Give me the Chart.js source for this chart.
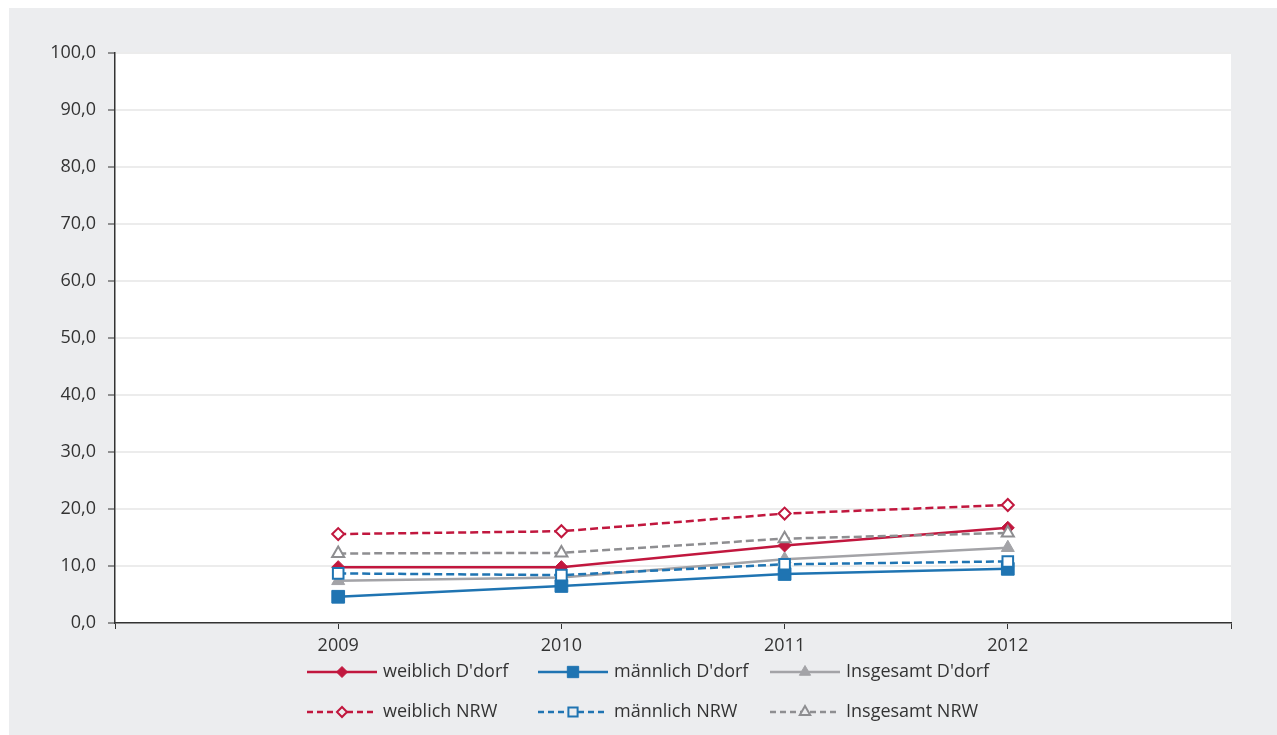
<!DOCTYPE html>
<html lang="de">
<head>
<meta charset="utf-8">
<title>Quote 2009–2012</title>
<script src="https://cdn.jsdelivr.net/npm/chart.js@4/dist/chart.umd.min.js"></script>
<style>
  html, body { margin: 0; padding: 0; background: #fff; }
  #panel { position: absolute; left: 9px; top: 8px; width: 1268px; height: 727px; background: #ecedef; }
  #wrap { position: absolute; left: 0; top: 0; width: 1277px; height: 735px; }
</style>
</head>
<body>
<div id="panel"></div>
<div id="wrap"><canvas id="quoteChart" width="1277" height="735"></canvas></div>
<script>
// Jahre und Werte (in %)
const jahre = [2009, 2010, 2011, 2012];
const weiblichDdorf = [9.8, 9.8, 13.6, 16.7];
const maennlichDdorf = [4.6, 6.5, 8.6, 9.5];
const insgesamtDdorf = [7.4, 8.0, 11.2, 13.2];
const weiblichNRW = [15.6, 16.1, 19.2, 20.7];
const maennlichNRW = [8.7, 8.4, 10.3, 10.8];
const insgesamtNRW = [12.2, 12.3, 14.8, 15.8];

const ROT = '#c1173e';
const BLAU = '#1f74b2';
const GRAU = '#a3a3a7';
const GRAU_NRW = '#8e8e91';
const TEXT = '#333333';
const FONT = '"Open Sans", "DejaVu Sans", sans-serif';
const FONT_SIZE = 18;

const punkte = werte => werte.map((v, i) => ({ x: jahre[i], y: v }));
const komma = v => v.toFixed(1).replace('.', ',');

const serien = [
	{ label: "weiblich D'dorf", data: weiblichDdorf, color: ROT, style: 'rectRot', r: 6.5, open: false, dash: [] },
	{ label: "männlich D'dorf", data: maennlichDdorf, color: BLAU, style: 'rect', r: 9, open: false, dash: [] },
	{ label: "Insgesamt D'dorf", data: insgesamtDdorf, color: GRAU, style: 'triangle', r: 7.5, open: false, dash: [] },
	{ label: 'weiblich NRW', data: weiblichNRW, color: ROT, style: 'rectRot', r: 6, open: true, dash: [8, 4] },
	{ label: 'männlich NRW', data: maennlichNRW, color: BLAU, style: 'rect', r: 7.5, open: true, dash: [8, 4] },
	{ label: 'Insgesamt NRW', data: insgesamtNRW, color: GRAU_NRW, style: 'triangle', r: 7, open: true, dash: [8, 4] }
];

// weiße Zeichenfläche
const plotBg = {
	id: 'plotBg',
	beforeDraw(chart) {
		const { ctx, chartArea: a } = chart;
		ctx.save();
		ctx.fillStyle = '#fff';
		ctx.fillRect(a.left, a.top, a.right - a.left, a.bottom - a.top);
		ctx.restore();
	}
};

// Legende: zwei Zeilen à drei Einträge, Linie mit Symbol
const legende = {
	id: 'legende',
	afterDraw(chart) {
		const ctx = chart.ctx;
		const spalten = [307, 538, 770];
		const zeilen = [672, 712];
		ctx.save();
		serien.forEach((s, i) => {
			const x = spalten[i % 3];
			const y = zeilen[Math.floor(i / 3)];
			ctx.strokeStyle = s.color;
			ctx.lineWidth = 2.5;
			ctx.setLineDash(s.open ? [6, 4] : []);
			ctx.beginPath();
			ctx.moveTo(x, y);
			ctx.lineTo(x + 70, y);
			ctx.stroke();
			ctx.setLineDash([]);
			ctx.fillStyle = s.open ? '#ecedef' : s.color;
			ctx.lineWidth = s.open ? 2 : 1;
			Chart.helpers.drawPoint(ctx, {
				pointStyle: s.style,
				radius: s.r - 1,
				rotation: 0,
				borderWidth: s.open ? 2 : 1
			}, x + 35, y);
			ctx.fillStyle = TEXT;
			ctx.font = FONT_SIZE + 'px ' + FONT;
			ctx.textBaseline = 'middle';
			ctx.textAlign = 'left';
			ctx.fillText(s.label, x + 76, y);
		});
		ctx.restore();
	}
};

new Chart(document.getElementById('quoteChart'), {
	type: 'line',
	data: {
		datasets: serien.map((s, i) => ({
			label: s.label,
			data: punkte(s.data),
			borderColor: s.color,
			backgroundColor: s.color,
			borderWidth: 2.5,
			borderDash: s.dash,
			pointStyle: s.style,
			pointRadius: s.r,
			pointHoverRadius: s.r,
			pointBackgroundColor: s.open ? '#fff' : s.color,
			pointBorderColor: s.color,
			pointBorderWidth: s.open ? 2 : 1,
			tension: 0,
			fill: false,
			order: s.open ? i - 6 : i
		}))
	},
	options: {
		responsive: false,
		animation: false,
		layout: { padding: { top: 53, right: 46, left: 0, bottom: 0 } },
		plugins: {
			legend: { display: false },
			tooltip: { enabled: false }
		},
		scales: {
			x: {
				type: 'linear',
				min: 2008,
				max: 2013,
				afterFit(scale) { scale.height = 112; },
				afterBuildTicks(scale) {
					scale.ticks = [2008, ...jahre, 2013].map(v => ({ value: v }));
				},
				ticks: {
					color: TEXT,
					font: { family: FONT, size: FONT_SIZE },
					padding: 6,
					maxRotation: 0,
					autoSkip: false,
					callback: v => (jahre.includes(v) ? String(v) : '')
				},
				grid: {
					drawOnChartArea: false,
					drawTicks: true,
					tickLength: 6,
					tickColor: TEXT,
					tickWidth: 1
				},
				border: { color: TEXT, width: 1.5 }
			},
			y: {
				min: 0,
				max: 100,
				afterFit(scale) { scale.width = 115; },
				ticks: {
					stepSize: 10,
					color: TEXT,
					font: { family: FONT, size: FONT_SIZE },
					padding: 12,
					callback: v => komma(v)
				},
				grid: {
					color: '#ececec',
					lineWidth: 2,
					tickLength: 7,
					tickColor: TEXT,
					tickWidth: 1
				},
				border: { color: TEXT, width: 1.5 }
			}
		}
	},
	plugins: [plotBg, legende]
});
</script>
</body>
</html>
